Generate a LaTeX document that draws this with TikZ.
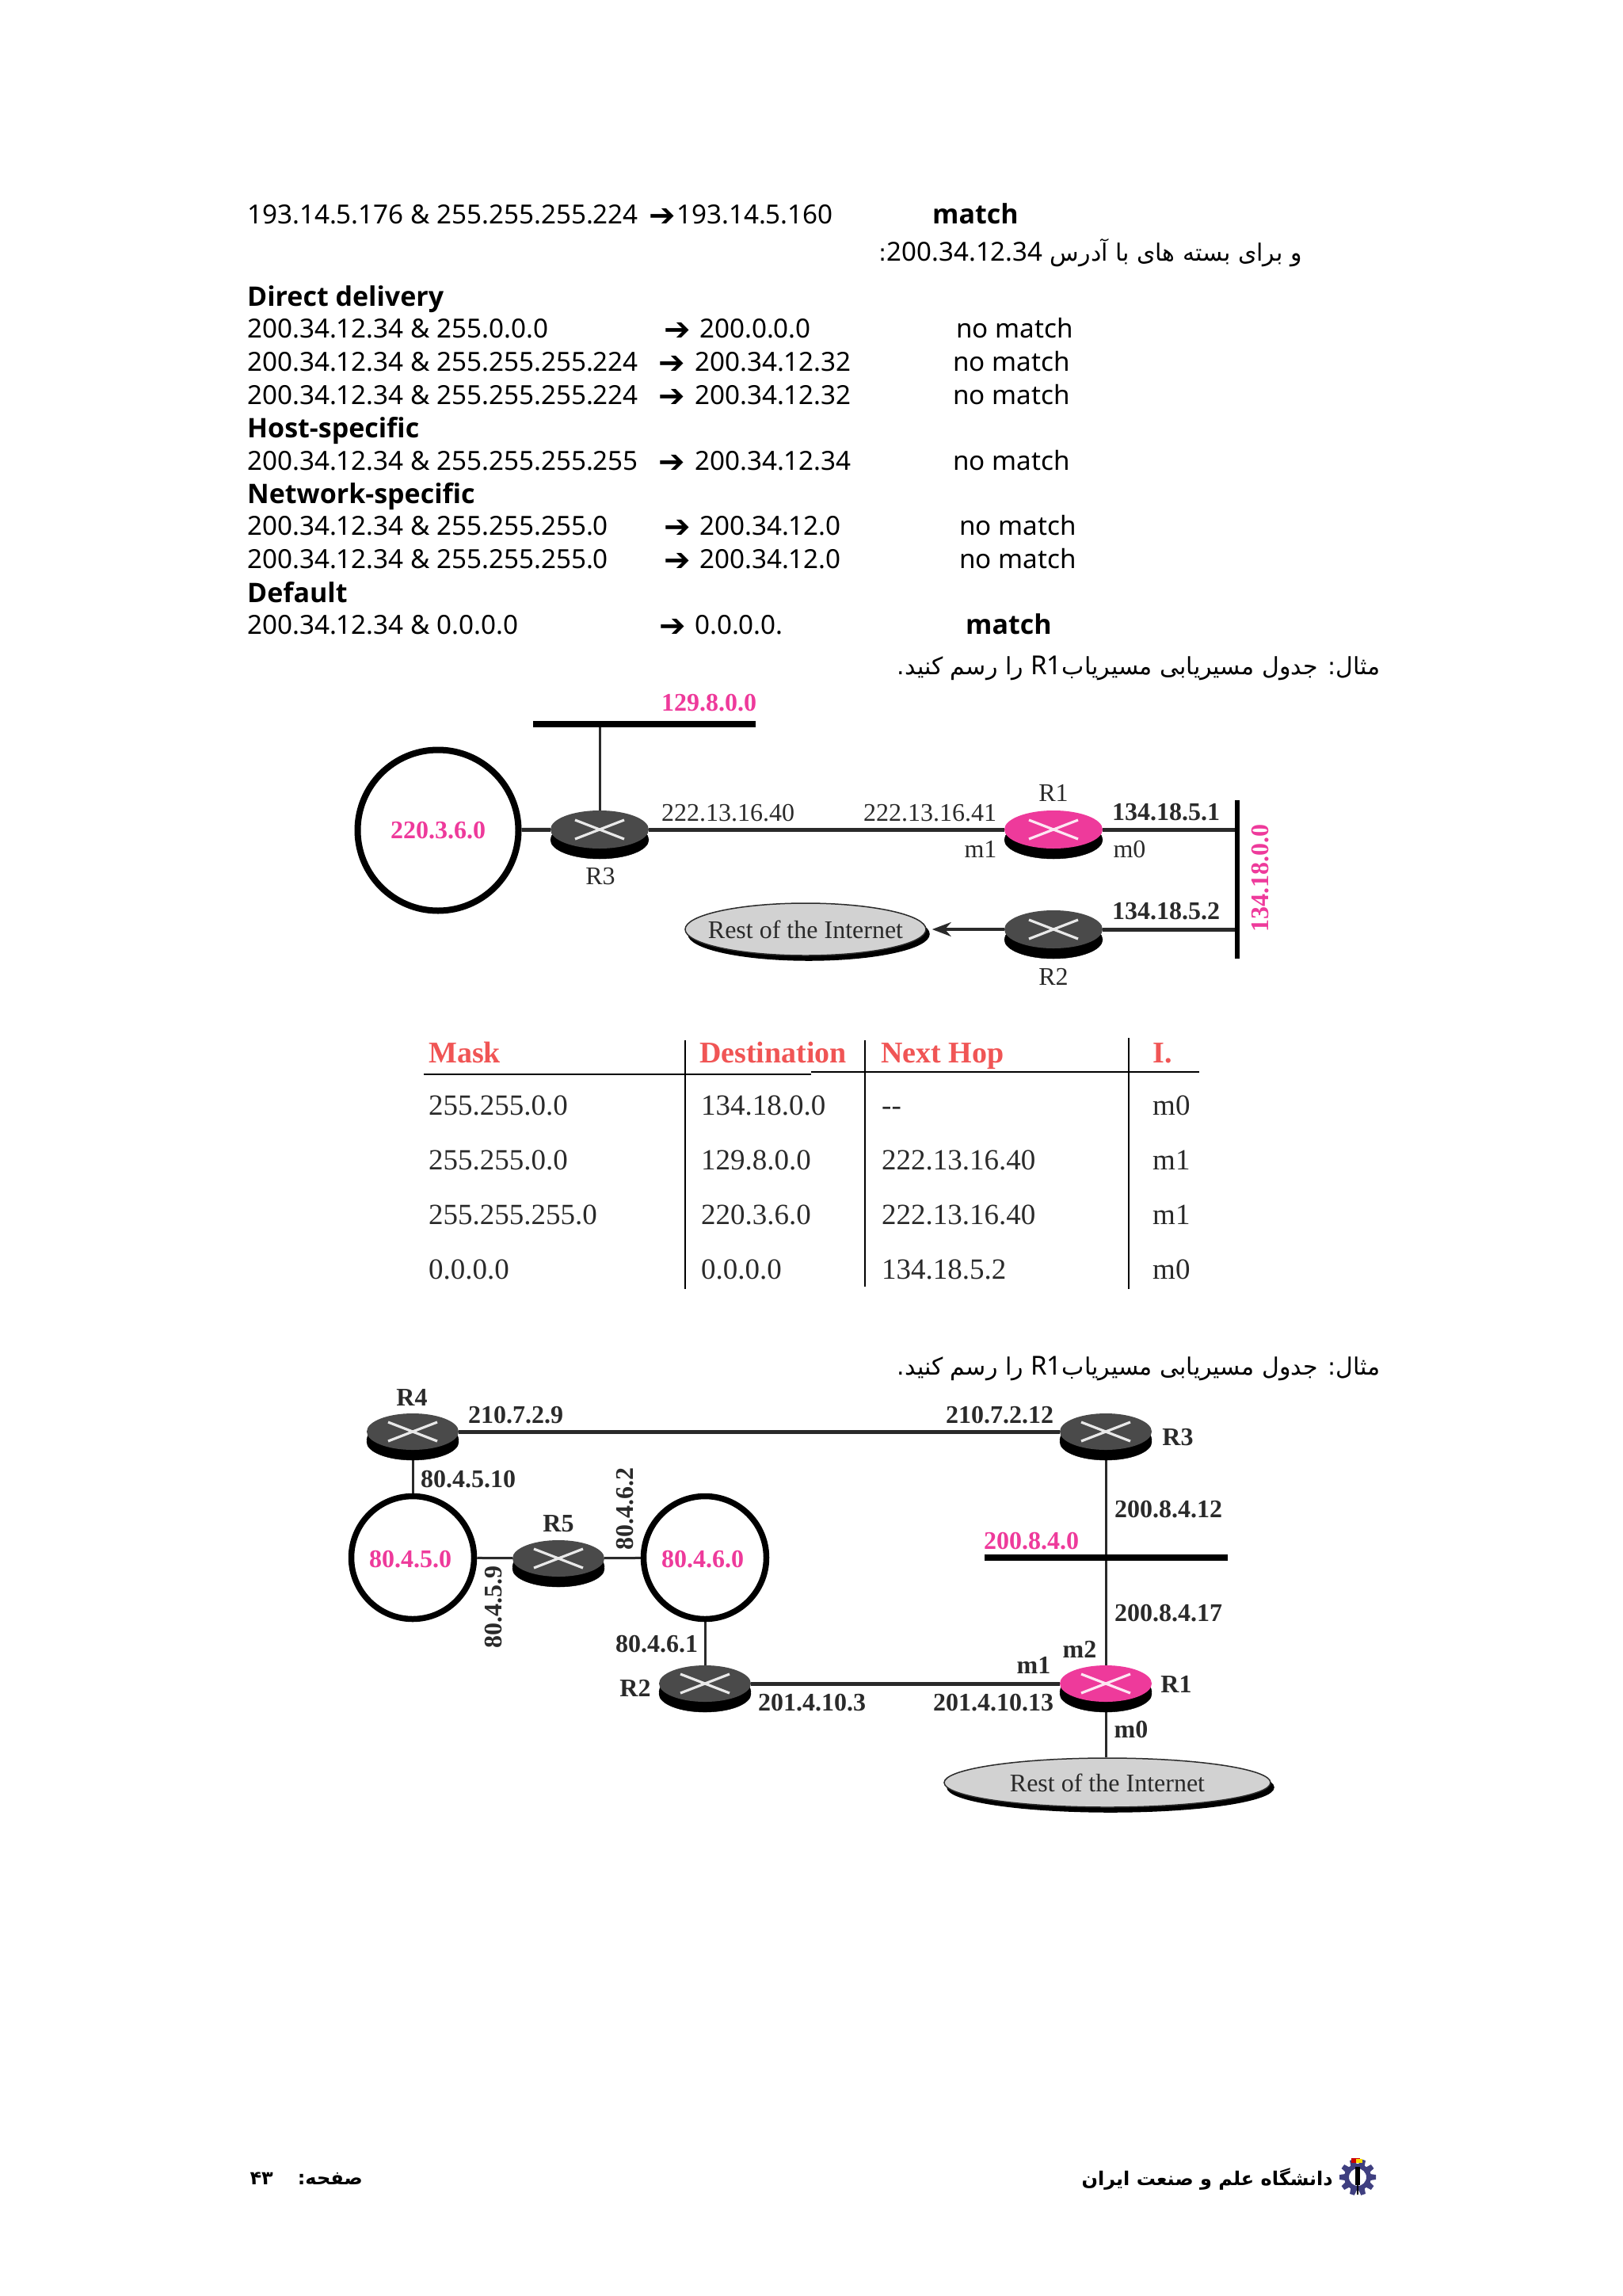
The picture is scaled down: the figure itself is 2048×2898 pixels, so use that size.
\documentclass[tikz,border=0pt]{standalone}
\usepackage{fontspec}
\usetikzlibrary{shapes.geometric,shadows,backgrounds,arrows.meta}
\setmainfont{Noto Sans}
\TeXXeTstate=1
\newfontfamily\latf{Noto Sans}
\newfontfamily\latb{Open Sans}
\newfontfamily\arabicfont[Script=Arabic]{DejaVu Sans}
\newfontfamily\dejaf{DejaVu Sans}
\newfontfamily\dgf{Liberation Serif}
\newcommand{\latin}[1]{\beginL{\latf\fontsize{33}{36}\selectfont #1}\endL}
\definecolor{pinkc}{HTML}{EE3A9B}
\definecolor{rdark}{HTML}{4A4A4A}
\definecolor{redh}{HTML}{F05555}
\definecolor{cloudc}{HTML}{D2D2D2}
\definecolor{linec}{HTML}{2A2A2A}
\definecolor{gearc}{HTML}{3F3F80}
\tikzset{
  tl/.style={anchor=base west,inner sep=0pt,font=\latf\fontsize{33.2}{36}\selectfont,text=black},
  tb/.style={tl,font=\latb\bfseries\fontsize{34}{36}\selectfont},
  arw/.style={tl,font=\dejaf\bfseries\fontsize{40}{50}\selectfont},
  fa/.style={anchor=east,inner sep=0pt,font=\arabicfont\fontsize{30}{36}\selectfont},
  ff/.style={inner sep=0pt,font=\arabicfont\bfseries\fontsize{24}{36}\selectfont},
  dl/.style={inner sep=0pt,text=#1,font=\dgf\fontsize{32}{36}\selectfont},
  dl/.default=linec,
  db/.style={inner sep=0pt,text=#1,font=\dgf\bfseries\fontsize{32}{36}\selectfont},
  db/.default=linec,
  th/.style={anchor=base west,inner sep=0pt,text=redh,font=\dgf\bfseries\fontsize{38}{40}\selectfont},
  td/.style={anchor=base west,inner sep=0pt,text=linec,font=\dgf\fontsize{37}{40}\selectfont},
  router/.style={ellipse,inner sep=0pt,fill=#1,minimum width=124pt,minimum height=48pt,
    copy shadow={shadow xshift=0pt,shadow yshift=-13pt,fill=black,opacity=1},
    path picture={\draw[white!88!#1,line width=3.2pt]
      ([shift={(-31pt,-12pt)}]path picture bounding box.center)--([shift={(31pt,12pt)}]path picture bounding box.center)
      ([shift={(-31pt,12pt)}]path picture bounding box.center)--([shift={(31pt,-12pt)}]path picture bounding box.center);}},
  routers/.style={router=#1,minimum width=116pt,minimum height=46pt,
    copy shadow={shadow xshift=0pt,shadow yshift=-10pt,fill=black,opacity=1}},
  net/.style={circle,draw=black,line width=8pt,fill=white,inner sep=0pt},
  cloud1/.style={ellipse,draw=linec,line width=1.5pt,fill=cloudc,inner sep=0pt,
    copy shadow={shadow xshift=4pt,shadow yshift=-6pt,fill=black,draw=black,opacity=1}},
  bus/.style={fill=black,inner sep=0pt},
  lnk/.style={line width=5pt,linec},
  lnkt/.style={line width=3pt,linec},
  rule/.style={line width=2.6pt,black},
}
\begin{document}
\begin{tikzpicture}[x=1pt,y=-1pt]
\useasboundingbox (0,0) rectangle (2048,2898);
% --- text block
\node[tl] (a1) at (312,282) {193.14.5.176 \& 255.255.255.224};
\node[arw] (a2) at (819,285) {➔};
\node[tl] (a3) at (854,282) {193.14.5.160};
\node[tb] (a4) at (1177,282) {match};
\node[fa] (p1) at (1644,319) {\beginR و برای بسته های با آدرس \latin{200.34.12.34}:\endR};
\node[tb] (h1) at (312,386) {Direct delivery};
\node[tl] (b1) at (312,426) {200.34.12.34 \& 255.0.0.0};
\node[arw] (b2) at (838,429) {➔};
\node[tl] (b3) at (883,426) {200.0.0.0};
\node[tl] (b4) at (1207,426) {no match};
\node[tl] (c1) at (312,468) {200.34.12.34 \& 255.255.255.224};
\node[arw] (c2) at (831,471) {➔};
\node[tl] (c3) at (877,468) {200.34.12.32};
\node[tl] (c4) at (1203,468) {no match};
\node[tl] (d1) at (312,510) {200.34.12.34 \& 255.255.255.224};
\node[arw] (d2) at (831,513) {➔};
\node[tl] (d3) at (877,510) {200.34.12.32};
\node[tl] (d4) at (1203,510) {no match};
\node[tb] (h2) at (312,552) {Host-specific};
\node[tl] (e1) at (312,593) {200.34.12.34 \& 255.255.255.255};
\node[arw] (e2) at (831,596) {➔};
\node[tl] (e3) at (877,593) {200.34.12.34};
\node[tl] (e4) at (1203,593) {no match};
\node[tb] (h3) at (312,635) {Network-specific};
\node[tl] (f1) at (312,675) {200.34.12.34 \& 255.255.255.0};
\node[arw] (f2) at (838,678) {➔};
\node[tl] (f3) at (883,675) {200.34.12.0};
\node[tl] (f4) at (1211,675) {no match};
\node[tl] (g1) at (312,717) {200.34.12.34 \& 255.255.255.0};
\node[arw] (g2) at (838,720) {➔};
\node[tl] (g3) at (883,717) {200.34.12.0};
\node[tl] (g4) at (1211,717) {no match};
\node[tb] (h4) at (312,760) {Default};
\node[tl] (i1) at (312,800) {200.34.12.34 \& 0.0.0.0};
\node[arw] (i2) at (832,803) {➔};
\node[tl] (i3) at (877,800) {0.0.0.0.};
\node[tb] (i4) at (1219,800) {match};
\node[fa] (p2) at (1743,843) {\beginR مثال: جدول مسیریابی مسیریاب\latin{R1} را رسم کنید.\endR};
% --- diagram 1
\node[bus,minimum width=281pt,minimum height=8pt] (busa) at (813,914) {};
\node[net,minimum size=203pt] (n220) at (553,1048) {};
\node[db=pinkc] (n220t) at (553,1048) {220.3.6.0};
\node[router=rdark] (r3a) at (757,1047) {};
\node[router=pinkc] (r1a) at (1330,1047) {};
\node[router=rdark] (r2a) at (1330,1173) {};
\node[bus,minimum width=6pt,minimum height=200pt] (busb) at (1562,1110) {};
\node[cloud1,minimum width=304pt,minimum height=66pt] (cla) at (1017,1173) {};
\node[dl] (clat) at (1017,1173) {Rest of the Internet};
\begin{scope}[on background layer]
\draw[lnkt] (r3a) -- (r3a |- busa.south);
\draw[lnk] (n220) -- (r3a);
\draw[lnk] (r3a) -- (r1a);
\draw[lnk] (r1a) -- (r1a -| busb.west);
\draw[lnk] (r2a) -- (r2a -| busb.west);
\draw[line width=3.5pt,linec,-{Stealth[length=24pt,width=18pt]}] (r2a) -- ([xshift=7pt]r2a -| cla.east);
\end{scope}
\node[db=pinkc] (l129) at (895,887) {129.8.0.0};
\node[dl] (lr1a) at (1330,1001) {R1};
\node[dl] (lr3a) at (758,1106) {R3};
\node[dl] (lr2a) at (1330,1233) {R2};
\node[dl] (l40) at (919,1026) {222.13.16.40};
\node[dl] (l41) at (1174,1026) {222.13.16.41};
\node[db] (l51) at (1472,1025) {134.18.5.1};
\node[db] (l52) at (1472,1150) {134.18.5.2};
\node[dl] (lm1a) at (1238,1072) {m1};
\node[dl] (lm0a) at (1426,1072) {m0};
\node[db=pinkc,rotate=90] (l134) at (1591,1108) {134.18.0.0};
% --- table
\draw[rule] (535,1356) -- (1024,1356);
\draw[rule] (1024,1353) -- (1514,1353);
\draw[rule] (865,1313) -- (865,1627);
\draw[rule] (1092,1313) -- (1092,1624);
\draw[rule] (1425,1310) -- (1425,1627);
\node[th] (tm) at (541,1341) {Mask};
\node[th] (td) at (883,1341) {Destination};
\node[th] (tn) at (1112,1341) {Next Hop};
\node[th] (ti) at (1455,1341) {I.};
\node[td] (t11) at (541,1407) {255.255.0.0};
\node[td] (t12) at (885,1407) {134.18.0.0};
\node[td] (t13) at (1113,1407) {--};
\node[td] (t14) at (1455,1407) {m0};
\node[td] (t21) at (541,1476) {255.255.0.0};
\node[td] (t22) at (885,1476) {129.8.0.0};
\node[td] (t23) at (1113,1476) {222.13.16.40};
\node[td] (t24) at (1455,1476) {m1};
\node[td] (t31) at (541,1545) {255.255.255.0};
\node[td] (t32) at (885,1545) {220.3.6.0};
\node[td] (t33) at (1113,1545) {222.13.16.40};
\node[td] (t34) at (1455,1545) {m1};
\node[td] (t41) at (541,1614) {0.0.0.0};
\node[td] (t42) at (885,1614) {0.0.0.0};
\node[td] (t43) at (1113,1614) {134.18.5.2};
\node[td] (t44) at (1455,1614) {m0};
% --- diagram 2
\node[fa] (p3) at (1743,1727) {\beginR مثال: جدول مسیریابی مسیریاب\latin{R1} را رسم کنید.\endR};
\node[routers=rdark] (r4) at (521,1807) {};
\node[routers=rdark] (r3) at (1396,1807) {};
\node[routers=rdark] (r5) at (705,1967) {};
\node[routers=rdark] (r2) at (890,2125) {};
\node[routers=pinkc] (r1) at (1396,2125) {};
\node[net,line width=7.5pt,minimum size=155pt] (n5) at (521,1966) {};
\node[net,line width=7.5pt,minimum size=155pt] (n6) at (890,1966) {};
\node[bus,minimum width=307pt,minimum height=8pt] (busc) at (1396,1966) {};
\node[cloud1,minimum width=412pt,minimum height=62pt] (clb) at (1398,2250) {};
\node[dl] (clbt) at (1398,2250) {Rest of the Internet};
\begin{scope}[on background layer]
\draw[lnk] (r4) -- (r3);
\draw[lnk] (r2) -- (r1);
\draw[lnkt] (r4) -- (n5);
\draw[lnkt] (n5) -- (r5);
\draw[lnkt] (r5) -- (n6);
\draw[lnkt] (n6) -- (r2);
\draw[lnkt] (r3) -- (r1);
\draw[lnkt] (r1) -- (r1 |- clb.north);
\end{scope}
\node[db] (lr4) at (520,1764) {R4};
\node[db] (l29) at (651,1786) {210.7.2.9};
\node[db] (l212) at (1262,1786) {210.7.2.12};
\node[db] (lr3) at (1487,1814) {R3};
\node[db] (l510) at (591,1867) {80.4.5.10};
\node[db,rotate=90] (l62) at (789,1904) {80.4.6.2};
\node[db] (lr5) at (705,1923) {R5};
\node[db] (l812) at (1475,1905) {200.8.4.12};
\node[db=pinkc] (l840) at (1302,1945) {200.8.4.0};
\node[db=pinkc] (l450) at (518,1968) {80.4.5.0};
\node[db=pinkc] (l460) at (887,1968) {80.4.6.0};
\node[db,rotate=90] (l59) at (623,2028) {80.4.5.9};
\node[db] (l817) at (1475,2036) {200.8.4.17};
\node[db] (l61) at (829,2075) {80.4.6.1};
\node[db] (lm2) at (1363,2082) {m2};
\node[db] (lm1) at (1305,2102) {m1};
\node[db] (lr2) at (802,2131) {R2};
\node[db] (lr1) at (1485,2126) {R1};
\node[db] (l103) at (1025,2149) {201.4.10.3};
\node[db] (l1013) at (1254,2149) {201.4.10.13};
\node[db] (lm0) at (1428,2183) {m0};
% --- footer
\node[ff,anchor=east] (f43) at (345,2750) {\beginR ۴۳\endR};
\node[ff,anchor=east] (fpage) at (458,2750) {\beginR صفحه:\endR};
\node[ff,anchor=east] (funi) at (1683,2750) {\beginR دانشگاه علم و صنعت ایران\endR};
% logo
\begin{scope}[shift={(1714,2748)}]
\foreach \a in {18,54,...,342}{
  \fill[gearc,rotate=\a] (-4.5,-12) -- (-3,-23) -- (3,-23) -- (4.5,-12) -- cycle;
}
\draw[gearc,line width=6pt] (0,0) circle (14pt);
\fill[black] (-3,-13) rectangle (3,10);
\fill[black] (-1.2,10) rectangle (1.2,22);
\fill[red!80!black] (-8,-18) rectangle (3,-24);
\fill[yellow!80!orange] (-2,-18) rectangle (6,-23);
\end{scope}
\end{tikzpicture}
\end{document}
